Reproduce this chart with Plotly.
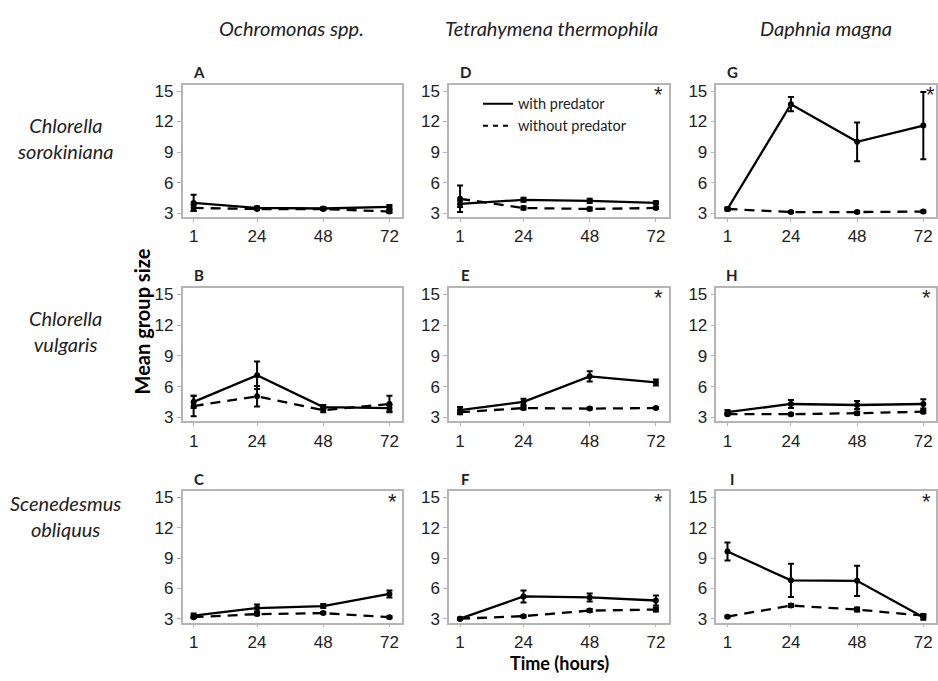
import plotly.graph_objects as go

# ---------------- data ----------------
times = [1, 24, 48, 72]
time_ticks = [1, 24, 48, 72]
y_ticks = [3, 6, 9, 12, 15]
predators = ["Ochromonas spp.", "Tetrahymena thermophila", "Daphnia magna"]
prey = ["Chlorella<br>sorokiniana", "Chlorella<br>vulgaris", "Scenedesmus<br>obliquus"]
# panels listed column by column (predator), rows = prey
panel_letters = ["A", "B", "C", "D", "E", "F", "G", "H", "I"]
significant = ["C", "D", "E", "F", "G", "H", "I"]

with_mean = {
    "A": [4.0, 3.5, 3.45, 3.6],
    "B": [4.5, 7.1, 4.0, 3.9],
    "C": [3.3, 4.05, 4.25, 5.45],
    "D": [3.9, 4.3, 4.2, 4.0],
    "E": [3.7, 4.5, 7.0, 6.4],
    "F": [3.0, 5.2, 5.1, 4.8],
    "G": [3.4, 13.7, 10.0, 11.6],
    "H": [3.5, 4.3, 4.2, 4.3],
    "I": [9.65, 6.8, 6.75, 3.15],
}
with_err = {
    "A": [0.8, 0.15, 0.15, 0.2],
    "B": [0.6, 1.35, 0.2, 0.3],
    "C": [0.2, 0.35, 0.2, 0.35],
    "D": [0.3, 0.2, 0.2, 0.15],
    "E": [0.3, 0.3, 0.5, 0.3],
    "F": [0.1, 0.6, 0.4, 0.5],
    "G": [0.15, 0.7, 1.9, 3.3],
    "H": [0.2, 0.4, 0.4, 0.45],
    "I": [0.9, 1.65, 1.5, 0.25],
}
without_mean = {
    "A": [3.5, 3.4, 3.4, 3.15],
    "B": [4.1, 5.05, 3.7, 4.3],
    "C": [3.15, 3.45, 3.55, 3.15],
    "D": [4.4, 3.5, 3.4, 3.5],
    "E": [3.5, 3.9, 3.85, 3.9],
    "F": [3.0, 3.25, 3.8, 3.9],
    "G": [3.4, 3.1, 3.1, 3.15],
    "H": [3.3, 3.3, 3.4, 3.55],
    "I": [3.2, 4.3, 3.9, 3.3],
}
without_err = {
    "A": [0.3, 0.1, 0.1, 0.15],
    "B": [1.0, 1.0, 0.2, 0.8],
    "C": [0.1, 0.1, 0.1, 0.1],
    "D": [1.3, 0.15, 0.15, 0.1],
    "E": [0.2, 0.15, 0.1, 0.1],
    "F": [0.05, 0.1, 0.15, 0.2],
    "G": [0.1, 0.1, 0.1, 0.1],
    "H": [0.1, 0.1, 0.15, 0.15],
    "I": [0.1, 0.15, 0.2, 0.15],
}

# ---------------- layout geometry ----------------
W, H = 938, 681
col_px = [(183, 403), (450, 670), (718, 938)]
row_px = [(83, 217), (289, 424), (495, 628)]

def px_x(p):
    return p / W

def px_y(p):
    return 1 - p / H

TEXT = "#222222"
BORDER = "#b5b5b5"
tick_font = dict(family="Liberation Sans, Arial, sans-serif", size=17, color=TEXT)
lab_font = "Lato, Open Sans, sans-serif"

fig = go.Figure()
layout = {}
annotations = []

for c in range(3):
    for r in range(3):
        idx = c * 3 + r
        letter = panel_letters[idx]
        n = idx + 1
        xa = "xaxis" if n == 1 else f"xaxis{n}"
        ya = "yaxis" if n == 1 else f"yaxis{n}"
        xr = "x" if n == 1 else f"x{n}"
        yr = "y" if n == 1 else f"y{n}"
        x0, x1 = col_px[c]
        y0, y1 = row_px[r]
        layout[xa] = dict(
            domain=[px_x(x0), min(px_x(x1), 1.0)], anchor=yr,
            range=[-3.0, 76.6], tickvals=time_ticks, ticktext=[str(t) for t in time_ticks],
            showgrid=False, zeroline=False, showline=True, mirror=True,
            linecolor=BORDER, linewidth=1.5, ticks="outside", ticklen=3,
            tickcolor=BORDER, tickwidth=1.2, tickfont=tick_font,
        )
        layout[ya] = dict(
            domain=[px_y(y1), px_y(y0)], anchor=xr,
            range=[2.6, 15.6], tickvals=y_ticks,
            showgrid=False, zeroline=False, showline=True, mirror=True,
            linecolor=BORDER, linewidth=1.5, ticks="outside", ticklen=4,
            tickcolor=BORDER, tickwidth=1.2, tickfont=tick_font,
        )
        fig.add_trace(go.Scatter(
            x=times, y=without_mean[letter], xaxis=xr, yaxis=yr,
            mode="lines+markers", showlegend=False,
            line=dict(color="black", width=2.3, dash="10px,7px"),
            marker=dict(color="black", size=6),
            error_y=dict(type="data", array=without_err[letter], color="black",
                         thickness=2, width=3),
        ))
        fig.add_trace(go.Scatter(
            x=times, y=with_mean[letter], xaxis=xr, yaxis=yr,
            mode="lines+markers", showlegend=False,
            line=dict(color="black", width=2.3),
            marker=dict(color="black", size=6),
            error_y=dict(type="data", array=with_err[letter], color="black",
                         thickness=2, width=3),
        ))
        # panel letter
        annotations.append(dict(
            text=f"<b>{letter}</b>", xref="paper", yref="paper",
            x=px_x(x0 + 16), y=px_y(y0 - 13), xanchor="center", yanchor="middle",
            showarrow=False, font=dict(family=lab_font, size=15, color=TEXT),
        ))
        if letter in significant:
            ax = x1 - 10 if letter != "G" else x1 - 6
            annotations.append(dict(
                text="*", xref="paper", yref="paper",
                x=px_x(ax), y=px_y(y0 - 5), xanchor="center", yanchor="top",
                showarrow=False,
                font=dict(family="Liberation Sans, Arial, sans-serif", size=22, color=TEXT),
            ))

# legend entries (for panel D)
fig.add_trace(go.Scatter(x=[None], y=[None], mode="lines", name="with predator",
                         line=dict(color="black", width=2), xaxis="x4", yaxis="y4"))
fig.add_trace(go.Scatter(x=[None], y=[None], mode="lines", name="without predator",
                         line=dict(color="black", width=2, dash="5px,5px"),
                         xaxis="x4", yaxis="y4"))

# column titles
col_centers = [292, 553, 828]
for c, name in enumerate(predators):
    annotations.append(dict(
        text=f"<i>{name}</i>", xref="paper", yref="paper",
        x=px_x(col_centers[c]), y=px_y(25), xanchor="center", yanchor="middle",
        showarrow=False, font=dict(family=lab_font, size=20, color=TEXT),
    ))

# row titles
row_centers = [137, 332, 520]
for r, name in enumerate(prey):
    annotations.append(dict(
        text=f"<i>{name}</i>", xref="paper", yref="paper",
        x=px_x(66), y=px_y(row_centers[r]), xanchor="center", yanchor="middle",
        showarrow=False, align="center",
        font=dict(family=lab_font, size=20, color=TEXT),
    ))

# axis titles
annotations.append(dict(
    text="<b>Mean group size</b>", xref="paper", yref="paper",
    x=px_x(142), y=px_y(323), xanchor="center", yanchor="middle", textangle=-90,
    showarrow=False, font=dict(family=lab_font, size=20, color="black"),
))
annotations.append(dict(
    text="<b>Time (hours)</b>", xref="paper", yref="paper",
    x=px_x(561), y=0, xanchor="center", yanchor="bottom", borderpad=0,
    showarrow=False, font=dict(family=lab_font, size=18, color="black"),
))

fig.update_layout(
    width=W, height=H,
    margin=dict(l=0, r=0, t=0, b=0),
    paper_bgcolor="white", plot_bgcolor="white",
    annotations=annotations,
    legend=dict(x=px_x(479), y=px_y(86), xanchor="left", yanchor="top",
                bgcolor="rgba(0,0,0,0)", font=dict(family=lab_font, size=14.5, color=TEXT),
                itemwidth=30, tracegroupgap=0),
    **layout,
)

fig.write_html(
    "out.html",
    config={"displayModeBar": False},
    post_script="document.body.style.margin='0';document.body.style.overflow='hidden';",
)
